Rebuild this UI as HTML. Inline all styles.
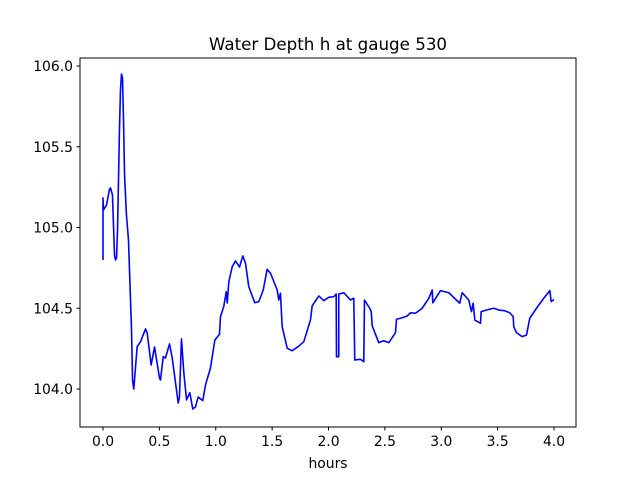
<!DOCTYPE html>
<html><head><meta charset="utf-8"><style>
body{margin:0;background:#fff;}
svg text{font-family:"DejaVu Sans","Liberation Sans",sans-serif;fill:#000;}
</style></head><body>
<svg id="chart" width="640" height="480" viewBox="0 0 640 480">
<rect x="0" y="0" width="640" height="480" fill="#fff"/>
<text x="328" y="50" font-size="16.7" text-anchor="middle">Water Depth h at gauge 530</text>
<text x="328" y="468" font-size="13.9" text-anchor="middle">hours</text>
<g id="ticks"></g>
<clipPath id="clip"><rect x="80" y="58" width="496" height="369"/></clipPath>
<path id="series" fill="none" stroke="#0000ff" stroke-width="1.6" stroke-linejoin="round" clip-path="url(#clip)"/>
<rect x="80" y="58" width="496" height="369" fill="none" stroke="#000" stroke-width="1"/>
</svg>
<script>
const xTicks = [0.0, 0.5, 1.0, 1.5, 2.0, 2.5, 3.0, 3.5, 4.0];
const xTickLabels = ["0.0","0.5","1.0","1.5","2.0","2.5","3.0","3.5","4.0"];
const yTicks = [104.0, 104.5, 105.0, 105.5, 106.0];
const yTickLabels = ["104.0","104.5","105.0","105.5","106.0"];
const hours = [0,0,0.004,0.031,0.058,0.067,0.084,0.093,0.102,0.111,0.120,0.129,0.146,0.155,0.164,0.173,0.182,0.191,0.208,0.226,0.235,0.253,0.262,0.273,
0.303,0.333,0.377,0.392,0.427,0.457,0.501,0.510,0.534,0.554,0.590,0.614,0.634,0.667,0.678,0.696,0.717,0.741,0.770,0.796,0.820,0.844,0.885,0.909,0.953,0.992,
1.033,1.042,1.071,1.093,1.102,1.116,1.146,1.175,1.211,1.240,1.264,1.293,1.346,1.382,1.421,1.456,1.486,1.545,1.559,1.574,1.589,1.634,1.678,1.737,1.781,1.840,1.855,1.914,1.958,
2.003,2.047,2.068,2.071,2.091,2.091,2.136,2.195,2.224,2.233,2.284,2.313,2.319,2.366,2.379,2.388,2.446,2.490,2.535,2.594,2.603,2.654,2.698,2.727,2.772,2.831,2.890,2.920,2.925,2.993,
3.067,3.164,3.186,3.244,3.268,3.283,3.298,3.348,3.354,3.422,3.466,3.510,3.561,3.608,3.638,3.643,3.667,3.718,3.756,3.785,3.845,3.909,3.963,3.975,4.0];
const depth = [104.799,105.183,105.108,105.139,105.238,105.245,105.201,105.015,104.830,104.799,104.811,104.985,105.604,105.851,105.950,105.926,105.665,105.325,105.077,104.923,104.737,104.365,104.056,104.000,
104.262,104.293,104.372,104.347,104.149,104.260,104.068,104.056,104.200,104.192,104.279,104.192,104.087,103.913,103.950,104.310,104.099,103.932,103.977,103.876,103.889,103.950,103.928,104.025,104.130,104.303,
104.339,104.448,104.510,104.602,104.533,104.664,104.757,104.793,104.755,104.824,104.778,104.633,104.534,104.541,104.613,104.741,104.716,104.613,104.551,104.593,104.386,104.252,104.237,104.266,104.293,104.427,104.514,104.576,104.547,
104.568,104.572,104.588,104.200,104.200,104.588,104.596,104.551,104.562,104.180,104.184,104.169,104.551,104.500,104.479,104.390,104.287,104.299,104.287,104.349,104.432,104.441,104.452,104.472,104.469,104.500,104.562,104.613,104.534,104.609,
104.596,104.531,104.596,104.551,104.479,104.531,104.427,104.407,104.479,104.493,104.500,104.489,104.485,104.472,104.448,104.386,104.349,104.324,104.334,104.438,104.500,104.562,104.609,104.541,104.555];

const X0 = 103, XS = 112.75, Y0 = 66, YS = 161.5;
function xScale(v){ return X0 + v * XS; }
function yScale(v){ return Y0 + (106 - v) * YS; }
const NS = "http://www.w3.org/2000/svg";
const tg = document.getElementById('ticks');
xTicks.forEach((v,i)=>{
  const x = xScale(v);
  const l = document.createElementNS(NS,'line');
  l.setAttribute('x1',x); l.setAttribute('x2',x); l.setAttribute('y1',427); l.setAttribute('y2',430.5);
  l.setAttribute('stroke','#000');
  
  
  tg.appendChild(l);
  const t = document.createElementNS(NS,'text');
  t.setAttribute('x',x); t.setAttribute('y',446); t.setAttribute('font-size','13.9'); t.setAttribute('text-anchor','middle');
  t.textContent = xTickLabels[i];
  
  
  tg.appendChild(t);
});
yTicks.forEach((v,i)=>{
  const y = yScale(v);
  const l = document.createElementNS(NS,'line');
  l.setAttribute('x1',76.5); l.setAttribute('x2',80); l.setAttribute('y1',y); l.setAttribute('y2',y);
  l.setAttribute('stroke','#000');
  
  
  tg.appendChild(l);
  const t = document.createElementNS(NS,'text');
  t.setAttribute('x',73); t.setAttribute('y',y+5); t.setAttribute('font-size','13.9'); t.setAttribute('text-anchor','end');
  t.textContent = yTickLabels[i];
  
  
  tg.appendChild(t);
});
let d = '';
hours.forEach((v,i)=>{ d += (i?'L':'M') + xScale(v).toFixed(2) + ',' + yScale(depth[i]).toFixed(2); });
document.getElementById('series').setAttribute('d', d);
</script>
</body></html>
